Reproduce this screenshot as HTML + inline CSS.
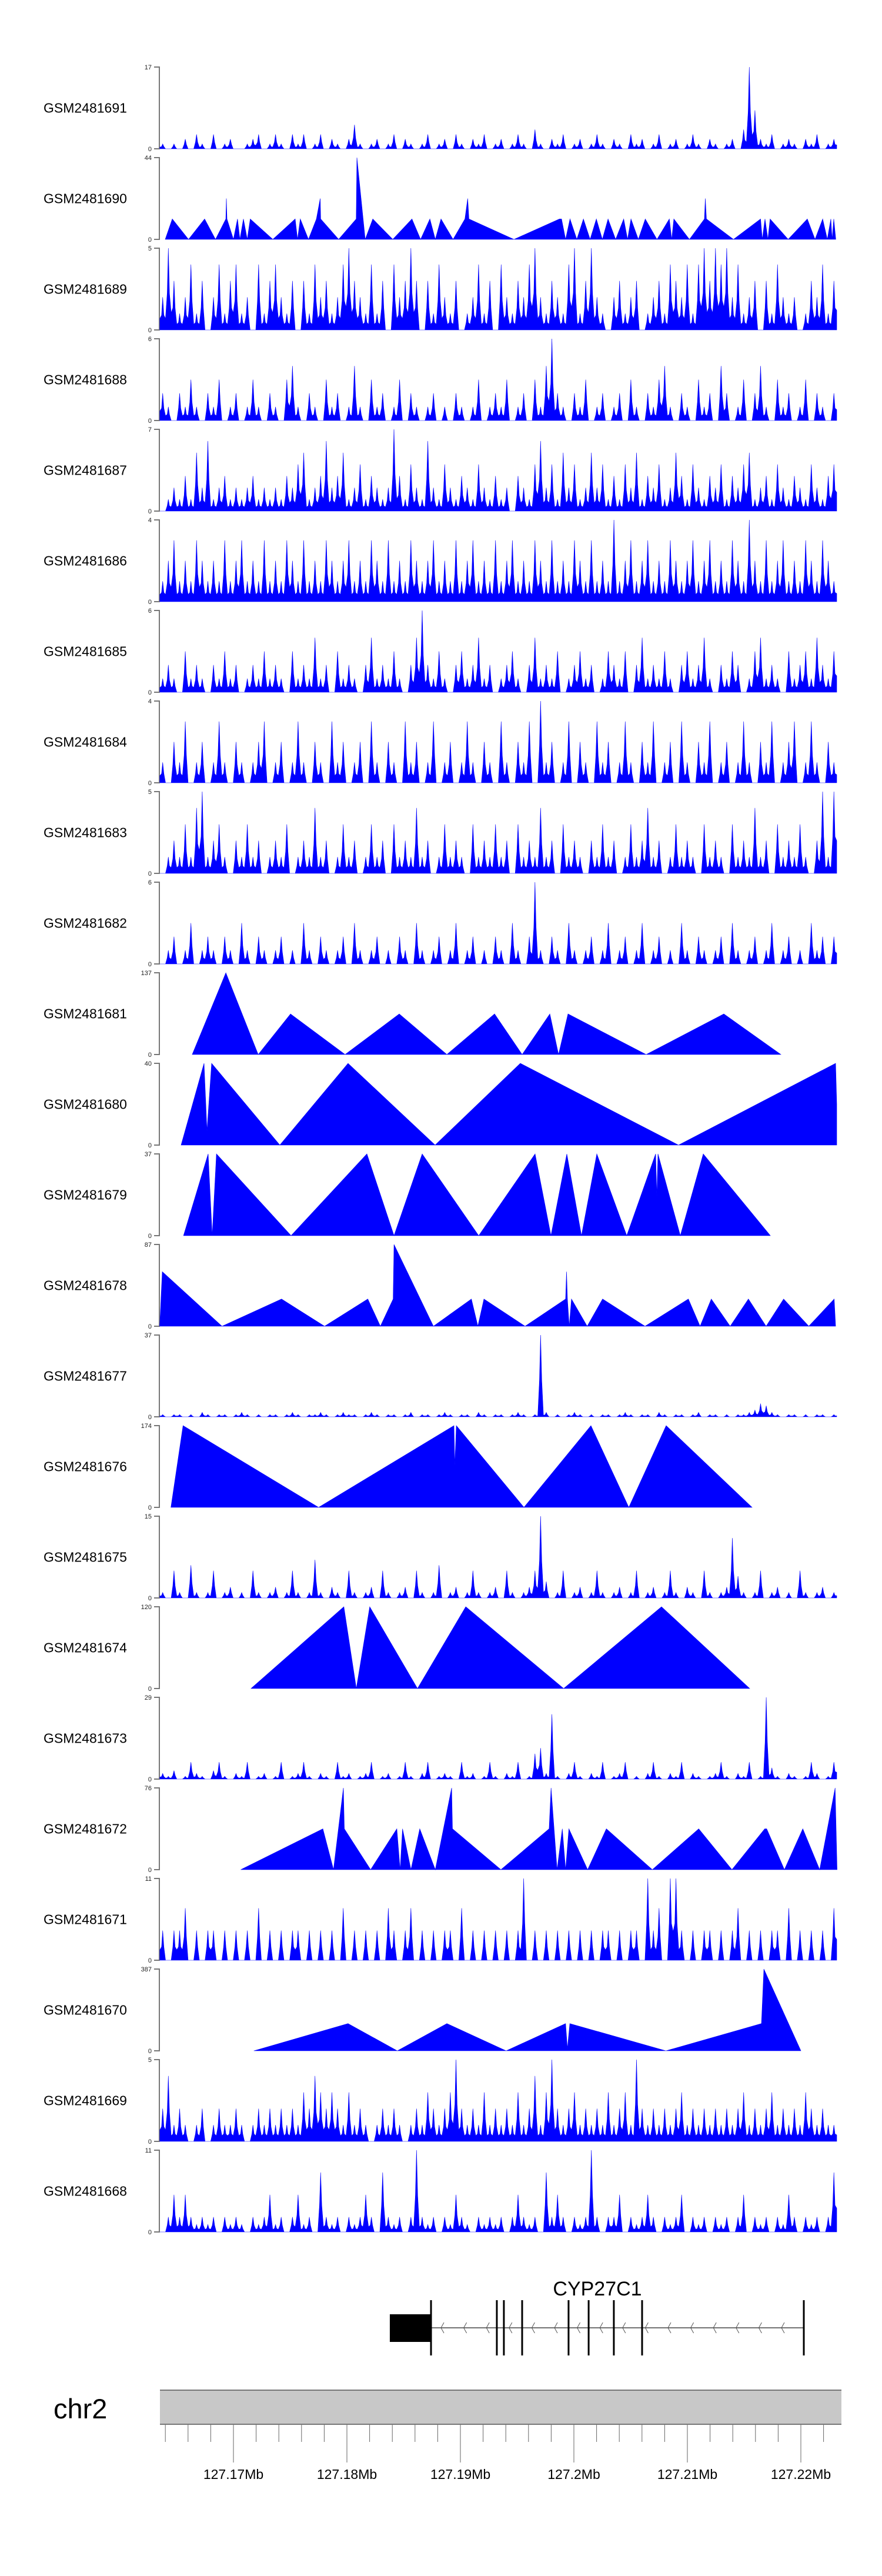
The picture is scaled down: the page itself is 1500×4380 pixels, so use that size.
<!DOCTYPE html>
<html><head><meta charset="utf-8"><title>Coverage tracks CYP27C1</title>
<style>
html,body{margin:0;padding:0;background:#fff;}
svg{display:block;}
text{font-family:"Liberation Sans",Arial,sans-serif;}
</style></head>
<body>
<svg id="chart" xmlns="http://www.w3.org/2000/svg" width="1500" height="4380" viewBox="0 0 1500 4380">
<g id="tracks"></g>
<g id="gene"></g>
<g id="ideo"></g>
</svg>
<script>
// ---------- data ----------
const sampleNames = ["GSM2481691","GSM2481690","GSM2481689","GSM2481688","GSM2481687","GSM2481686","GSM2481685","GSM2481684","GSM2481683","GSM2481682","GSM2481681","GSM2481680","GSM2481679","GSM2481678","GSM2481677","GSM2481676","GSM2481675","GSM2481674","GSM2481673","GSM2481672","GSM2481671","GSM2481670","GSM2481669","GSM2481668"];
const sampleMax = [17,44,5,6,7,4,6,4,5,6,137,40,37,87,37,174,15,120,29,76,11,387,5,11];
// dense tracks: 120 bins (kb offsets from chr2:127,160,000)
const binStartKb = 3.52;
const binEndKb = 63.16;
const d1691 = [1,0,1,0,2,0,3,1,0,3,0,1,2,0,0,1,2,3,0,1, 3,1,0,3,1,3,0,1,3,0,2,1,0,2,5,1,0,1,2,0, 1,3,0,2,1,0,1,3,0,1,2,0,3,1,0,2,1,3,0,1, 2,0,1,3,1,0,4,1,0,2,1,3,0,1,2,0,1,3,1,0, 2,1,0,3,1,2,0,1,3,0,1,2,0,1,3,1,0,2,1,0, 1,2,0,4,17,8,2,1,3,0,1,2,1,0,2,1,3,0,1,2];
const d1689 = [2,5,3,1,2,4,1,3,0,2,4,1,3,4,1,2,0,4,1,3, 4,2,1,3,0,3,1,4,2,3,1,2,4,5,3,2,1,4,1,3, 0,4,2,3,5,3,0,3,1,4,2,1,3,0,1,2,4,1,3,0, 4,2,1,3,2,4,5,2,1,3,2,1,4,5,1,3,5,2,1,0, 2,3,1,2,3,0,1,2,3,1,4,3,2,4,1,4,5,3,5,4, 5,2,4,1,2,3,0,3,1,4,2,1,2,0,1,3,2,4,1,3];
const d1688 = [2,1,0,2,1,3,1,0,2,1,3,0,1,2,0,1,3,1,0,2, 1,0,3,4,1,0,2,1,0,3,1,2,0,1,4,1,0,3,1,2, 0,1,3,0,2,1,0,1,2,0,1,0,2,1,0,1,3,0,1,2, 1,3,0,1,2,0,3,1,4,6,2,1,0,2,1,3,0,1,2,0, 1,2,0,3,1,0,2,1,3,4,1,0,2,1,0,3,1,2,0,4, 2,0,1,3,0,2,4,1,0,3,1,2,0,1,3,0,2,1,0,2];
const d1687 = [0,1,2,1,3,1,5,2,6,1,2,3,1,2,1,2,3,1,2,1, 2,1,3,2,4,5,1,2,3,6,2,3,5,1,2,4,1,3,2,1, 2,7,3,1,4,2,1,6,2,1,4,2,1,3,2,1,4,2,1,3, 1,2,0,3,2,1,4,6,2,4,1,5,2,4,1,2,5,2,4,1, 3,1,4,2,5,1,3,2,4,1,2,5,3,1,4,2,1,3,2,4, 1,3,2,4,5,1,2,3,1,4,2,1,3,2,1,4,2,1,3,4];
const d1686 = [1,2,3,1,2,1,3,2,1,2,1,3,1,2,3,1,2,1,3,1, 2,1,3,2,1,3,1,2,1,3,2,1,2,3,1,2,1,3,2,1, 3,1,2,1,3,2,1,2,3,1,2,1,3,1,2,3,1,2,1,3, 1,2,3,1,2,1,3,2,1,3,1,2,1,3,2,1,3,1,2,1, 4,1,2,3,1,2,3,1,2,1,3,2,1,2,3,1,2,3,1,2, 1,3,2,1,4,2,1,3,1,2,3,1,2,1,3,2,1,3,2,1];
const d1685 = [1,2,1,0,3,1,2,1,0,2,1,3,1,2,0,1,2,1,3,1, 2,1,0,3,1,2,1,4,1,2,0,3,1,2,1,0,2,4,1,2, 1,3,1,0,2,4,6,2,1,3,1,0,2,3,1,2,4,1,2,0, 1,2,3,1,0,2,4,1,2,1,3,0,1,2,3,1,2,0,1,3, 2,1,3,0,2,4,1,2,1,3,1,0,2,3,1,2,4,1,0,2, 1,3,2,0,1,3,4,1,2,1,0,3,1,2,3,1,4,2,1,3];
const d1684 = [1,0,2,1,3,0,1,2,0,1,3,1,0,2,1,0,1,2,3,0, 1,2,0,1,3,1,0,2,1,0,3,1,2,0,1,2,0,3,1,0, 2,1,0,3,1,2,0,1,3,0,1,2,0,1,3,1,0,2,1,0, 3,1,0,2,1,3,0,4,1,2,0,1,3,0,2,1,0,3,1,2, 0,1,3,1,0,2,1,3,0,1,2,0,3,1,0,2,1,3,0,1, 2,0,1,3,1,0,2,1,3,0,1,2,3,0,1,3,1,0,2,1];
const d1683 = [0,1,2,1,3,1,4,5,1,2,3,1,0,2,1,3,1,2,0,1, 2,1,3,0,1,2,1,4,1,2,0,1,3,1,2,0,1,3,1,2, 0,3,1,2,1,4,1,2,0,1,3,1,2,1,0,3,1,2,1,3, 1,2,0,3,1,2,1,4,1,2,0,3,1,2,1,0,2,1,3,1, 2,0,1,3,1,2,4,1,2,0,1,3,1,2,1,0,3,1,2,1, 0,3,1,2,1,4,1,2,0,3,1,2,1,3,1,0,2,5,1,5];
const d1682 = [0,1,2,0,1,3,0,1,2,1,0,2,1,0,3,1,0,2,1,0, 1,2,0,1,0,3,1,0,2,1,0,1,2,0,3,1,0,1,2,0, 1,0,2,1,0,3,1,0,1,2,0,1,3,0,1,2,0,1,0,2, 1,0,3,1,0,2,6,1,0,2,1,0,3,1,0,1,2,0,1,3, 0,1,2,0,1,3,0,1,2,0,1,0,3,1,0,2,1,0,1,2, 0,3,1,0,1,2,0,1,3,0,1,2,0,1,0,3,1,2,0,2];
const d1677 = [1,0,1,1,0,1,0,2,1,0,1,1,0,1,2,1,0,1,0,1, 1,0,1,2,1,0,1,1,2,1,0,1,2,1,1,0,1,2,1,0, 1,1,0,1,2,0,1,1,0,1,2,1,0,1,1,0,2,1,0,1, 1,0,1,2,1,0,1,37,2,0,1,0,1,2,1,0,1,0,1,1, 0,1,2,1,0,1,1,0,2,1,0,1,1,0,1,2,0,1,1,0, 1,0,1,1,2,3,6,5,2,1,0,1,1,0,1,0,1,1,0,1];
const d1675 = [1,0,5,1,0,6,1,0,1,5,0,1,2,0,1,0,5,1,0,1, 2,0,1,5,1,0,1,7,1,0,2,1,0,5,1,0,1,2,0,5, 1,0,1,2,0,5,1,0,1,6,0,1,2,0,1,5,1,0,1,2, 0,5,1,0,1,2,5,15,3,0,1,5,0,1,2,0,1,5,1,0, 1,2,0,1,5,0,1,2,0,1,5,1,0,2,1,0,5,1,0,1, 2,11,4,1,0,1,5,0,1,2,0,1,0,5,1,0,1,2,0,1];
const d1673 = [2,1,3,0,1,6,2,1,0,3,6,1,0,2,1,6,0,1,2,0, 1,6,0,1,2,6,1,0,2,1,0,6,1,2,0,1,2,6,0,1, 2,0,1,6,1,0,2,6,0,1,2,1,0,6,1,2,0,1,6,1, 0,2,1,6,0,1,9,11,2,23,1,0,2,6,1,0,2,1,6,0, 1,2,6,0,1,0,2,6,1,0,2,1,6,0,2,1,0,1,2,6, 1,0,2,1,6,0,1,29,4,1,0,2,1,0,1,6,2,0,1,6];
const d1671 = [4,0,4,4,7,0,4,0,4,4,0,4,0,4,0,4,0,7,0,4, 0,4,0,4,4,0,4,0,4,0,4,0,7,0,4,0,4,0,4,0, 7,4,0,4,7,0,4,0,4,0,4,4,0,7,0,4,0,4,0,4, 0,4,0,4,11,0,4,0,4,0,4,0,4,0,4,0,4,0,4,4, 0,4,0,4,4,0,11,4,7,0,11,11,4,0,4,0,4,4,0,4, 0,4,7,0,4,0,4,0,4,4,0,7,0,4,0,4,0,4,0,7];
const d1669 = [2,4,1,2,1,0,1,2,0,1,2,1,1,2,1,0,1,2,1,2, 1,2,1,2,1,3,2,4,3,2,3,2,1,3,1,2,1,0,1,2, 1,2,1,0,1,2,1,3,2,1,2,3,5,2,1,2,1,3,1,2, 1,2,1,3,1,2,4,1,3,5,2,1,2,3,1,2,1,2,1,3, 1,2,3,1,5,2,1,2,1,2,1,2,3,1,2,1,2,1,2,1, 2,1,2,3,1,2,1,2,3,1,2,1,2,1,3,2,1,2,1,1];
const d1668 = [0,2,5,2,5,2,1,2,1,2,0,2,1,2,1,0,2,1,2,5, 1,2,0,2,5,1,2,0,8,2,1,2,0,2,1,2,5,2,0,8, 2,1,2,0,2,11,2,1,2,0,2,1,5,2,1,0,2,1,2,1, 2,0,2,5,2,1,2,0,8,2,5,2,0,2,1,2,11,2,0,2, 2,5,0,2,1,2,5,2,0,2,1,2,5,0,2,1,2,0,2,1, 2,0,2,5,0,2,1,2,0,2,1,5,2,0,2,1,2,0,2,8];
// sparse tracks: positions (kb from chr2:127,160,000) and coverage values
const p1690 = [3.99,4.61,6.04,7.46,8.42,9.33,9.38,9.43,10.0,10.36,10.57,10.88,11.22,11.48,13.47,15.44,15.65,15.89,16.61,17.31,17.65,17.69,19.27,20.82,20.88,21.61,22.28,24.04,25.73,26.49,27.31,27.79,28.29,29.35,30.40,30.64,30.75,34.72,38.73,38.91,39.27,39.66,40.26,40.84,41.43,41.98,42.51,43.01,43.68,44.39,44.73,45.03,45.68,46.29,47.32,48.41,48.62,48.81,50.18,51.50,51.58,51.68,54.06,56.45,56.60,56.84,57.10,57.29,58.88,60.57,61.25,61.92,62.33,62.64,62.75,62.90,63.08];
const v1690 = [0,11,0,11,0,11,22,11,0,11,0,11,0,11,0,11,0,11,0,11,22,11,0,11,44,0,11,0,11,0,11,0,11,0,11,22,11,0,11,11,0,11,0,11,0,11,0,11,0,11,0,11,0,11,0,11,0,11,0,11,22,11,0,11,0,11,0,11,0,11,0,11,0,11,0,11,0];
const p1681 = [6.37,9.33,12.18,15.03,19.84,24.61,28.81,33.01,35.44,37.88,38.65,39.48,46.37,53.21,58.24];
const v1681 = [0,137,0,68,0,68,0,68,0,68,0,68,0,68,0];
const p1680 = [5.39,7.41,7.67,8.08,14.09,20.10,27.77,35.28,49.22,63.06,63.16];
const v1680 = [0,40,7,40,0,40,0,40,0,40,20];
const p1679 = [5.60,7.77,8.13,8.50,15.08,21.76,24.15,26.63,31.61,36.58,37.98,39.38,40.67,42.02,44.66,47.20,47.31,47.41,49.38,51.40,57.31];
const v1679 = [0,37,0,37,0,37,0,37,0,37,0,37,0,37,0,37,18,37,0,37,0];
const p1678 = [3.50,3.73,8.99,14.24,18.03,21.84,22.95,24.07,24.15,27.62,30.97,31.54,32.07,35.70,39.27,39.35,39.43,39.59,39.79,41.17,42.53,46.27,50.09,51.12,52.11,53.77,55.38,56.94,58.48,60.70,62.94,63.06];
const v1678 = [0,58,0,29,0,29,0,29,87,0,29,0,29,0,29,58,29,0,29,0,29,0,29,0,29,0,29,0,29,0,29,0];
const p1676 = [4.49,5.56,17.50,29.43,29.51,29.64,35.60,41.50,44.84,48.13,55.70];
const v1676 = [0,174,0,174,90,174,0,174,0,174,0];
const p1674 = [11.55,19.73,20.83,22.01,26.22,30.47,39.10,47.72,55.49];
const v1674 = [0,120,0,120,0,120,0,120,0];
const p1672 = [10.64,17.88,18.82,19.69,19.77,22.09,24.40,24.69,24.90,25.64,26.42,27.79,29.23,29.30,33.57,37.82,37.99,38.52,38.98,39.27,39.56,41.21,42.86,46.91,51.00,53.93,56.82,56.99,58.55,60.17,61.66,63.02,63.19];
const v1672 = [0,38,0,76,38,0,38,0,38,0,38,0,76,38,0,38,76,0,38,0,38,0,38,0,38,0,38,38,0,38,0,76,0];
const p1670 = [11.80,20.10,24.44,28.81,34.03,39.27,39.43,39.64,48.11,56.53,56.74,60.00];
const v1670 = [0,129,0,129,0,129,10,129,0,129,387,0];
// gene model (kb, absolute)
const utrStartKb = 127183.78, utrEndKb = 127187.41;
const exonKb = [127187.41,127193.21,127193.83,127195.44,127199.53,127201.30,127203.52,127206.01,127220.26];
const axisMajorKb = [127170,127180,127190,127200,127210,127220];
const axisMajorLabels = ["127.17Mb","127.18Mb","127.19Mb","127.2Mb","127.21Mb","127.22Mb"];

const denseData = {1691:d1691,1689:d1689,1688:d1688,1687:d1687,1686:d1686,1685:d1685,1684:d1684,1683:d1683,1682:d1682,1677:d1677,1675:d1675,1673:d1673,1671:d1671,1669:d1669,1668:d1668};
const sparseData = {1690:[p1690,v1690],1681:[p1681,v1681],1680:[p1680,v1680],1679:[p1679,v1679],1678:[p1678,v1678],1676:[p1676,v1676],1674:[p1674,v1674],1672:[p1672,v1672],1670:[p1670,v1670]};

// ---------- layout / scales ----------
const NS = "http://www.w3.org/2000/svg";
const TOP0 = 114, PITCH = 154, PH = 139, AXX = 271;
const xRel = kb => 204 + kb * 19.3;                 // kb offset from 127.16Mb
const xAbs = kb => 397 + (kb - 127170) * 19.3;      // absolute kb
function mk(tag, attrs, parent){ const e=document.createElementNS(NS,tag); for(const k in attrs) e.setAttribute(k,attrs[k]); parent.appendChild(e); return e; }

const tracks = document.getElementById('tracks');
sampleNames.forEach((name, i) => {
  const top = TOP0 + i*PITCH, bot = top + PH, max = sampleMax[i];
  const yOf = v => bot - v/max*PH;
  const g = mk('g', {}, tracks);
  
  
  const lab = mk('text', {x:74, y:top+PH/2+8, 'font-size':23, fill:'#000'}, g);
  lab.textContent = name;
  
  
  const ax = mk('path', {d:`M${AXX-9},${top}H${AXX}V${bot}H${AXX-9}`, fill:'none', stroke:'#777', 'stroke-width':2}, g);
  
  
  [[max, top], [0, bot]].forEach(([v, y]) => {
    const t = mk('text', {x:AXX-13, y:y+4, 'font-size':11, 'text-anchor':'end', fill:'#222'}, g);
    t.textContent = v;
    
    
  });
  const id = name.slice(-4);
  let pts = [];
  if (denseData[id]) {
    const vals = denseData[id], n = vals.length, w = (binEndKb - binStartKb)/n;
    pts.push([xRel(binStartKb), bot]);
    vals.forEach((v, k) => {
      const prev = k > 0 ? vals[k-1] : v;
      const shoulder = Math.min(prev, v) * 0.35;
      pts.push([xRel(binStartKb + k*w), yOf(shoulder)]);
      pts.push([xRel(binStartKb + (k+0.3)*w), yOf(Math.min(v, Math.max(shoulder, v*0.45)))]);
      pts.push([xRel(binStartKb + (k+0.5)*w), yOf(v)]);
      pts.push([xRel(binStartKb + (k+0.7)*w), yOf(v*0.45)]);
    });
    pts.push([xRel(binEndKb), yOf(vals[n-1]*0.4)]);
    pts.push([xRel(binEndKb), bot]);
  } else {
    const [ps, vs] = sparseData[id];
    pts.push([xRel(ps[0]), bot]);
    ps.forEach((p, k) => pts.push([xRel(p), yOf(vs[k])]));
    pts.push([xRel(ps[ps.length-1]), bot]);
  }
  const area = mk('polygon', {points: pts.map(p => p[0].toFixed(1)+','+p[1].toFixed(1)).join(' '), fill:'#0000ff', stroke:'#0000ff', 'stroke-width':0.6}, g);
  
  
});

// ---------- gene model ----------
const gene = document.getElementById('gene');
const gy = 3958;
const gl = mk('line', {x1:xAbs(utrEndKb), x2:xAbs(exonKb[exonKb.length-1]), y1:gy, y2:gy, stroke:'#444', 'stroke-width':1.5}, gene);


for (let x = xAbs(utrEndKb) + 17; x < xAbs(exonKb[exonKb.length-1]) - 10; x += 38.6) {
  const c = mk('polyline', {points:`${x+5},${gy-9} ${x},${gy} ${x+5},${gy+9}`, fill:'none', stroke:'#555', 'stroke-width':1}, gene);
  
  
}
const utr = mk('rect', {x:xAbs(utrStartKb), y:3935, width:xAbs(utrEndKb)-xAbs(utrStartKb), height:47, fill:'#000'}, gene);


exonKb.forEach(k => {
  const e = mk('rect', {x:xAbs(k)-1.5, y:3911, width:3, height:94, fill:'#000'}, gene);
  
  
});
const gname = mk('text', {x:1016, y:3903, 'font-size':34, 'text-anchor':'middle', fill:'#000'}, gene);
gname.textContent = 'CYP27C1';



// ---------- chromosome axis ----------
const ideo = document.getElementById('ideo');
const chrLab = mk('text', {x:91, y:4112, 'font-size':47, fill:'#000'}, ideo);
chrLab.textContent = 'chr2';


const bar = mk('rect', {x:272, y:4064, width:1159, height:58, fill:'#c8c8c8', stroke:'none'}, ideo);


mk('line', {x1:272, x2:1431, y1:4064, y2:4064, stroke:'#777', 'stroke-width':2}, ideo);
mk('line', {x1:272, x2:1431, y1:4122, y2:4122, stroke:'#777', 'stroke-width':2}, ideo);
for (let k = 127164; k <= 127222; k += 2) {
  const major = axisMajorKb.includes(k);
  const t = mk('line', {x1:xAbs(k), x2:xAbs(k), y1:4123, y2:major?4187:4152, stroke:'#666', 'stroke-width':1}, ideo);
  
  
}
axisMajorKb.forEach((k, i) => {
  const t = mk('text', {x:xAbs(k), y:4215, 'font-size':23, 'text-anchor':'middle', fill:'#000'}, ideo);
  t.textContent = axisMajorLabels[i];
  
  
});
</script>
</body></html>
